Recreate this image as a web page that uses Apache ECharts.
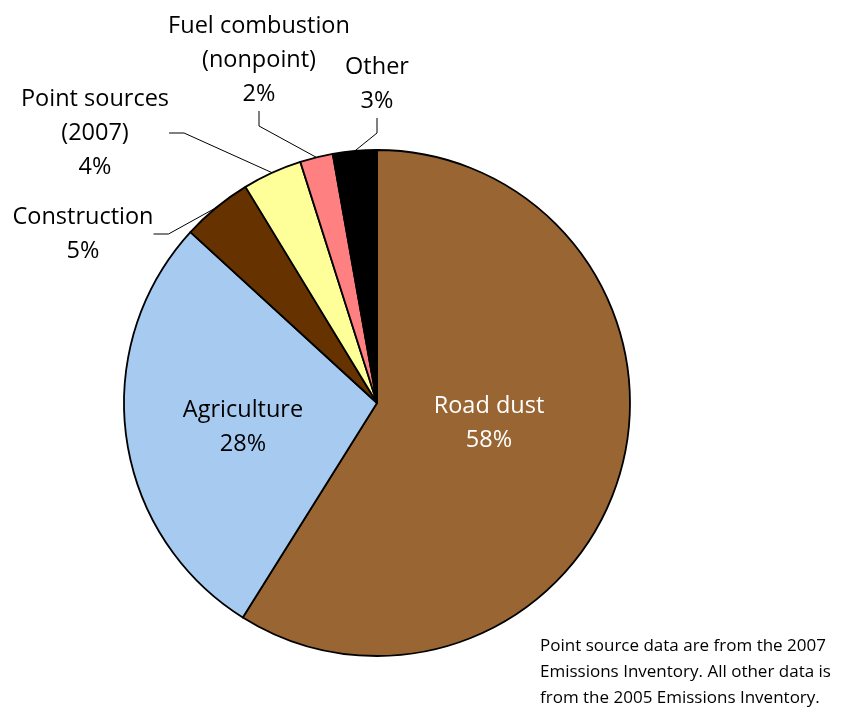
<!DOCTYPE html>
<html>
<head>
<meta charset="utf-8">
<script src="https://cdn.jsdelivr.net/npm/echarts@6/dist/echarts.min.js"></script>
<style>html,body{margin:0;padding:0;background:#fff;}#c{width:853px;height:708px;}</style>
</head>
<body>
<div id="c"></div>
<script>
const categories = ['Road dust', 'Agriculture', 'Construction', 'Point sources\n(2007)', 'Fuel combustion\n(nonpoint)', 'Other'];
const values = [58.9, 27.9, 4.5, 3.8, 2.1, 2.8];
const pctLabels = ['58%', '28%', '5%', '4%', '2%', '3%'];
const colors = ['#996633', '#A6CAF0', '#663300', '#FFFF99', '#FF8080', '#000000'];
const footnote = 'Point source data are from the 2007\nEmissions Inventory. All other data is\nfrom the 2005 Emissions Inventory.';

// label anchor positions (label centres) and styles
const labelPos = [
  {x: 489, y: 423, inside: true, color: '#ffffff'},
  {x: 243, y: 427, inside: true, color: '#000000'},
  {x: 83, y: 234, inside: false, color: '#000000'},
  {x: 95, y: 133, inside: false, color: '#000000'},
  {x: 259, y: 60, inside: false, color: '#000000'},
  {x: 377, y: 84, inside: false, color: '#000000'}
];

const FONT = '"Open Sans", "Noto Sans", sans-serif';
const chart = echarts.init(document.getElementById('c'), null, {renderer: 'canvas'});
chart.setOption({
  backgroundColor: '#ffffff',
  animation: false,
  graphic: [{
    type: 'text', left: 540, top: 633,
    style: {text: footnote, font: '17px ' + FONT, fill: '#000', lineHeight: 26}
  }],
  series: [{
    type: 'pie',
    center: [377, 403],
    radius: [0, 253],
    startAngle: 90,
    clockwise: true,
    avoidLabelOverlap: false,
    itemStyle: {borderColor: '#000', borderWidth: 1.8},
    label: {
      show: true,
      fontFamily: FONT,
      fontSize: 23.5,
      lineHeight: 34,
      color: '#000',
      align: 'center',
      formatter: p => categories[p.dataIndex] + '\n' + pctLabels[p.dataIndex]
    },
    labelLine: {show: true, length: 15, length2: 15, lineStyle: {color: '#000', width: 1}},
    labelLayout: p => {
      const lp = labelPos[p.dataIndex];
      return {x: lp.x, y: lp.y, align: 'center', verticalAlign: 'middle'};
    },
    data: categories.map((c, i) => ({
      name: c,
      value: values[i],
      itemStyle: {color: colors[i]},
      label: {position: labelPos[i].inside ? 'inside' : 'outside', color: labelPos[i].color},
      labelLine: {show: !labelPos[i].inside}
    }))
  }]
});
</script>
</body>
</html>
